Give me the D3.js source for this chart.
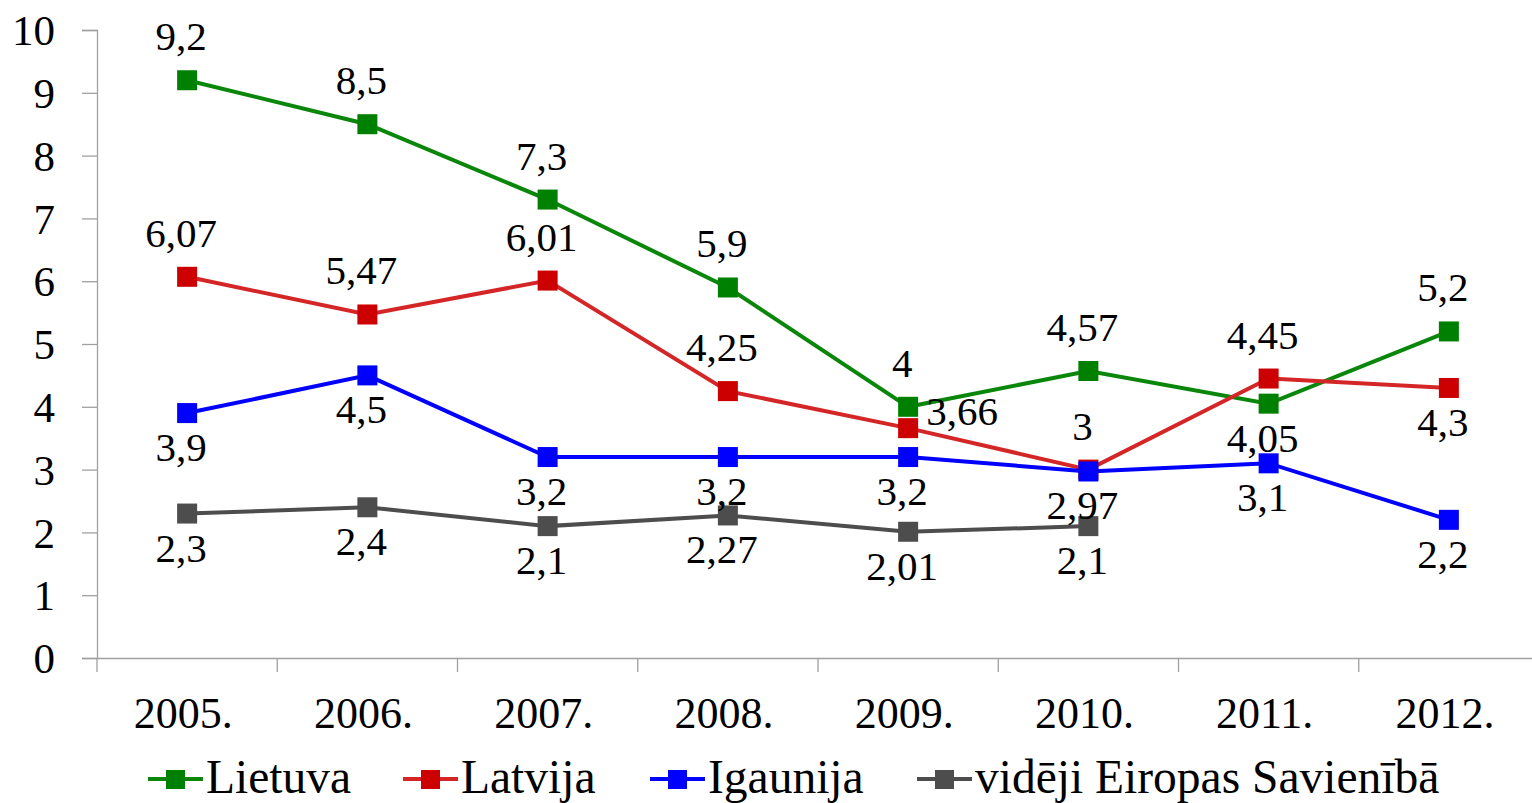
<!DOCTYPE html>
<html>
<head>
<meta charset="utf-8">
<script src="https://cdn.jsdelivr.net/npm/d3@7"></script>
<style>
  body { margin: 0; background: #fff; }
  text { font-family: "Liberation Serif", "Times New Roman", serif; fill: #000; }
</style>
</head>
<body>
<script>
// Chart data
const years = ["2005.", "2006.", "2007.", "2008.", "2009.", "2010.", "2011.", "2012."];
const lietuva = [9.2, 8.5, 7.3, 5.9, 4, 4.57, 4.05, 5.2];
const latvija = [6.07, 5.47, 6.01, 4.25, 3.66, 3, 4.45, 4.3];
const igaunija = [3.9, 4.5, 3.2, 3.2, 3.2, 2.97, 3.1, 2.2];
const eu = [2.3, 2.4, 2.1, 2.27, 2.01, 2.1, null, null];
const yTicks = [0, 1, 2, 3, 4, 5, 6, 7, 8, 9, 10];

// where each data label sits: t = above, b = below, r = right
const lietuvaPos = ["t", "t", "t", "t", "t", "t", "b", "t"];
const latvijaPos = ["t", "t", "t", "t", "r", "t", "t", "b"];
const igaunijaPos = ["b", "b", "b", "b", "b", "b", "b", "b"];
const euPos = ["b", "b", "b", "b", "b", "b", "b", "b"];

const series = [
    { name: "Lietuva", values: lietuva, pos: lietuvaPos, color: "#008000", line: "#0a870a" },
    { name: "Latvija", values: latvija, pos: latvijaPos, color: "#cc0000", line: "#d42626" },
    { name: "Igaunija", values: igaunija, pos: igaunijaPos, color: "#0000ff", line: "#0000ff" },
    { name: "vidēji Eiropas Savienībā", values: eu, pos: euPos, color: "#4d4d4d", line: "#4d4d4d" }
];

const width = 1532, height = 803;
const svg = d3.select("body").append("svg")
    .attr("width", width)
    .attr("height", height);

const x = d3.scaleBand().domain(years).range([97, 1539]).padding(0);
const y = d3.scaleLinear().domain([0, 10]).range([658, 30]);

// Axes
const yAxis = svg.append("g")
    .attr("transform", "translate(97,0)")
    .call(d3.axisLeft(y).tickValues(yTicks).tickSize(15).tickPadding(27).tickFormat(d3.format("d")));
yAxis.select(".domain").attr("stroke", "#a0a0a0").attr("stroke-width", 1.3);
yAxis.selectAll(".tick line").attr("stroke", "#a0a0a0").attr("stroke-width", 1.3);
yAxis.selectAll(".tick text").style("font-size", "43px").attr("dy", "0.34em");

const xAxis = svg.append("g")
    .attr("transform", "translate(0,658)")
    .call(d3.axisBottom(x).tickSize(0).tickPadding(0));
xAxis.select(".domain").attr("stroke", "#a0a0a0").attr("stroke-width", 1.3);
xAxis.selectAll(".tick text").style("font-size", "44px").attr("y", 70).attr("dy", 0).attr("dx", -4);

// category boundary ticks
svg.append("g").selectAll("line")
    .data(years)
    .enter()
    .append("line")
    .attr("x1", function(d) { return x(d); })
    .attr("x2", function(d) { return x(d); })
    .attr("y1", 658)
    .attr("y2", 672)
    .attr("stroke", "#a0a0a0")
    .attr("stroke-width", 1.3);

const line = d3.line()
    .defined(function(d) { return d != null; })
    .x(function(d, i) { return x(years[i]) + x.bandwidth() / 2; })
    .y(function(d) { return y(d); });

series.forEach(function(s) {
    const g = svg.append("g");
    g.append("path")
        .datum(s.values)
        .attr("fill", "none")
        .attr("stroke", s.line)
        .attr("stroke-width", 4)
        .attr("d", line);

    const pts = s.values.map(function(v, i) { return { v: v, i: i, pos: s.pos[i] }; })
        .filter(function(d) { return d.v != null; });

    g.selectAll("rect")
        .data(pts)
        .enter()
        .append("rect")
        .attr("x", function(d) { return x(years[d.i]) + x.bandwidth() / 2 - 10; })
        .attr("y", function(d) { return y(d.v) - 10; })
        .attr("width", 20)
        .attr("height", 20)
        .attr("fill", s.color);

    s.labels = pts;
});

// Data labels drawn on top
series.forEach(function(s) {
    svg.append("g").selectAll("text")
        .data(s.labels)
        .enter()
        .append("text")
        .attr("x", function(d) {
            const cx = x(years[d.i]) + x.bandwidth() / 2;
            return d.pos === "r" ? cx + 18 : cx - 6;
        })
        .attr("y", function(d) {
            if (d.pos === "t") return y(d.v) - 30;
            if (d.pos === "b") return y(d.v) + 48;
            return y(d.v) - 3;
        })
        .attr("text-anchor", function(d) { return d.pos === "r" ? "start" : "middle"; })
        .style("font-size", "41px")
        .text(function(d) { return String(d.v).replace(".", ","); });
});

// Legend
const legendX = [148, 403, 650, 917];
const legend = svg.append("g");
series.forEach(function(s, i) {
    const lx = legendX[i];
    legend.append("line")
        .attr("x1", lx).attr("x2", lx + 55)
        .attr("y1", 779).attr("y2", 779)
        .attr("stroke", s.line)
        .attr("stroke-width", 4);
    legend.append("rect")
        .attr("x", lx + 18).attr("y", 770)
        .attr("width", 19).attr("height", 19)
        .attr("fill", s.color);
    legend.append("text")
        .attr("x", lx + 58)
        .attr("y", 793)
        .style("font-size", "47.5px")
        .text(s.name);
});
</script>
</body>
</html>
